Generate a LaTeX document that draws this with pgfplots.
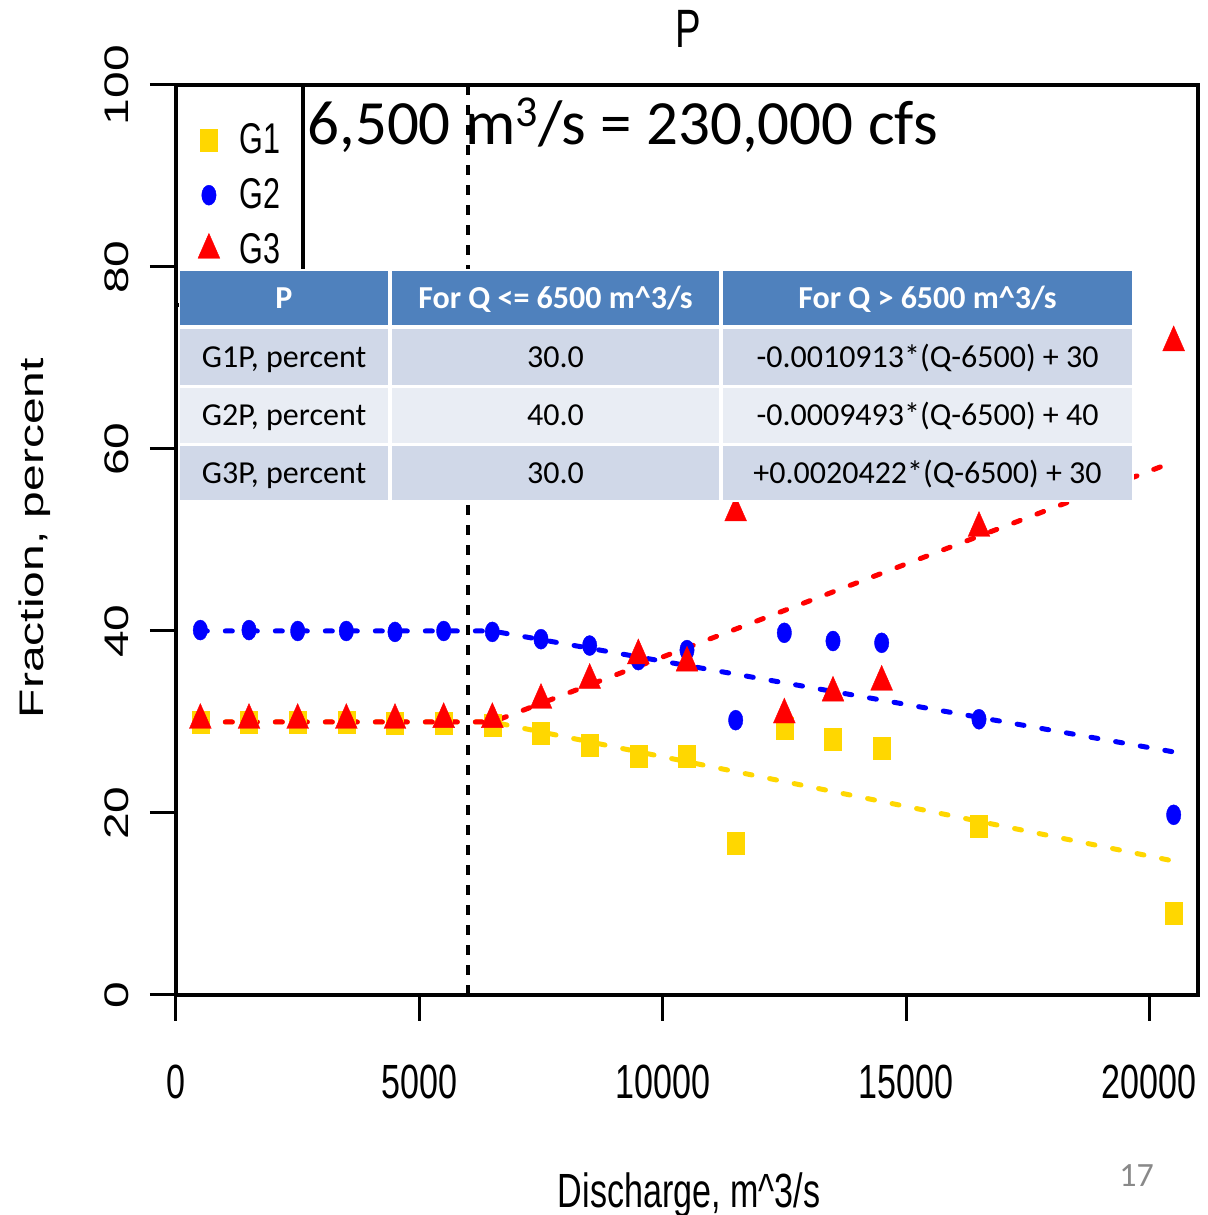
\documentclass[border=0pt]{standalone}
\usepackage{fontspec}
\setmainfont{Liberation Sans}
\newfontfamily\calibri{Carlito}
\usepackage{graphicx}
\usepackage{pgfplots}
\pgfplotsset{compat=1.18}

\definecolor{g1col}{RGB}{255,215,0}
\definecolor{g2col}{RGB}{0,0,255}
\definecolor{g3col}{RGB}{255,0,0}
\definecolor{hdrblue}{RGB}{79,129,189}
\definecolor{rowdark}{RGB}{208,216,232}
\definecolor{rowlight}{RGB}{233,237,244}
\definecolor{slidegray}{RGB}{137,137,137}

% R output is squeezed sideways on the slide
\newcommand{\sq}[1]{\scalebox{0.71}[1]{#1}}
\newcommand{\sqv}[1]{\scalebox{1}[0.71]{#1}}
\newcommand{\rfont}{\fontsize{24}{28}\selectfont}
\newcommand{\tfont}{\calibri\fontsize{16}{19}\selectfont}

\pgfplotsset{
  rleg/.style={legend image code/.code={%
      \path[draw=none, fill=none] (-4.5pt,-13.7pt) rectangle (4.5pt,13.7pt);
      \draw[##1] plot coordinates {(0pt,0pt)};}},
  fitline/.style={line width=2.5pt, dash pattern=on 3.5pt off 9pt, line cap=round, forget plot},
}

\begin{document}
\begin{tikzpicture}
\path[use as bounding box] (0,0) rectangle (604pt,607.5pt);
\begin{axis}[
  at={(88pt,110pt)}, anchor=south west,
  scale only axis, width=511pt, height=455pt,
  xmin=0, xmax=21000, ymin=0, ymax=100,
  axis line style={line width=2pt},
  tick align=outside, major tick length=13pt,
  tick style={line width=1.5pt, black},
  xtick pos=bottom, ytick pos=left,
  xtick={0,5000,10000,15000,20000},
  xticklabels={\sq{0},\sq{5000},\sq{10000},\sq{15000},\sq{20000}},
  ytick={0,20,40,60,80,100},
  yticklabels={\sqv{0},\sqv{20},\sqv{40},\sqv{60},\sqv{80},\sqv{100}},
  scaled ticks=false,
  ticklabel style={font=\rfont},
  xticklabel style={anchor=base, yshift=-39pt},
  yticklabel style={anchor=base, rotate=90},
  yticklabel shift=10.5pt,
  title={\sq{P}},
  title style={at={(rel axis cs:0.501,1.0407)}, anchor=base, yshift=-6pt, inner sep=0pt,
               font=\fontsize{27}{30}\selectfont},
  xlabel={\sq{Discharge, m\textasciicircum 3/s}},
  xlabel style={at={(rel axis cs:0.502,-0.233)}, anchor=base, inner sep=0pt, font=\rfont},
  ylabel={\sqv{Fraction, percent}},
  ylabel style={at={(rel axis cs:-0.130,0.502)}, anchor=base, inner sep=0pt, font=\rfont},
  legend style={at={(rel axis cs:0,1)}, anchor=north west, draw=black, line width=2pt,
                fill=white, outer sep=0pt, inner xsep=11pt, inner ysep=14pt, row sep=0pt,
                font=\fontsize{21.5}{24}\selectfont,
                /tikz/every odd column/.append style={column sep=10pt},
                nodes={inner sep=0pt, anchor=west}},
]
% points
\addplot[only marks, mark=square*, color=g1col, mark size=5.5pt,
  mark options={xscale=0.77, line width=0.2pt}, rleg] coordinates {
  (500,30.0) (1500,30.0) (2500,30.0) (3500,30.0) (4500,29.9) (5500,29.9)
  (6500,29.7) (7500,28.8) (8500,27.5) (9500,26.2) (10500,26.2) (11500,16.7)
  (12500,29.3) (13500,28.1) (14500,27.1) (16500,18.6) (20500,9.0)};
\addlegendentry{\sq{G1}}
\addplot[only marks, mark=*, color=g2col, mark size=5pt,
  mark options={xscale=0.72, line width=0.2pt}, rleg] coordinates {
  (500,40.1) (1500,40.1) (2500,40.0) (3500,40.0) (4500,39.9) (5500,40.0)
  (6500,39.9) (7500,39.1) (8500,38.4) (9500,36.8) (10500,37.9) (11500,30.2)
  (12500,39.8) (13500,38.9) (14500,38.7) (16500,30.3) (20500,19.8)};
\addlegendentry{\sq{G2}}
\addplot[only marks, mark=triangle*, color=g3col, mark size=8.3pt,
  mark options={xscale=0.76, line width=0.2pt}, rleg] coordinates {
  (500,30.2) (1500,30.2) (2500,30.2) (3500,30.2) (4500,30.2) (5500,30.3)
  (6500,30.3) (7500,32.4) (8500,34.6) (9500,37.3) (10500,36.5) (11500,53.0)
  (12500,30.8) (13500,33.2) (14500,34.4) (16500,51.3) (20500,71.7)};
\addlegendentry{\sq{G3}}
% piecewise fits
\addplot[fitline, color=g1col] coordinates {(500,30) (6500,30) (20500,14.72)};
\addplot[fitline, color=g2col] coordinates {(500,40) (6500,40) (20500,26.71)};
\addplot[fitline, color=g3col] coordinates {(500,30) (6500,30) (20500,58.59)};
% threshold
\addplot[black, line width=2pt, dash pattern=on 5pt off 5pt, forget plot]
  coordinates {(6000,0) (6000,100)};
\end{axis}

% slide overlay, in pixel units of the slide
\begin{scope}[shift={(0pt,607.5pt)}, x=0.5pt, y=-0.5pt]
\node[anchor=base west, inner sep=0pt, font=\calibri\fontsize{31.5}{36}\selectfont]
  at (307,145) {6,500 m\textsuperscript{3}/s = 230,000 cfs};
\fill[white] (179,269) rectangle (1134,502);
\fill[hdrblue] (180,271) rectangle (388,325);
\fill[hdrblue] (392,271) rectangle (719,325);
\fill[hdrblue] (723,271) rectangle (1132,325);
\foreach \ya/\yb/\c in {329/385/rowdark, 388/443/rowlight, 446/500/rowdark}{
  \fill[\c] (180,\ya) rectangle (388,\yb);
  \fill[\c] (392,\ya) rectangle (719,\yb);
  \fill[\c] (723,\ya) rectangle (1132,\yb);
}
\begin{scope}[every node/.style={anchor=base, inner sep=0pt, font=\tfont}]
\node[text=white, font=\tfont\bfseries] at (284,309) {P};
\node[text=white, font=\tfont\bfseries] at (555.5,309) {For Q <= 6500 m\textasciicircum 3/s};
\node[text=white, font=\tfont\bfseries] at (927.5,309) {For Q > 6500 m\textasciicircum 3/s};
\node at (284,367.5) {G1P, percent};
\node at (555.5,367.5) {30.0};
\node at (927.5,367.5) {-0.0010913*(Q-6500) + 30};
\node at (284,426) {G2P, percent};
\node at (555.5,426) {40.0};
\node at (927.5,426) {-0.0009493*(Q-6500) + 40};
\node at (284,484) {G3P, percent};
\node at (555.5,484) {30.0};
\node at (927.5,484) {+0.0020422*(Q-6500) + 30};
\end{scope}
\node[anchor=base west, inner sep=0pt, text=slidegray, font=\calibri\fontsize{17}{20}\selectfont]
  at (1119,1187) {17};
\end{scope}
\end{tikzpicture}
\end{document}
